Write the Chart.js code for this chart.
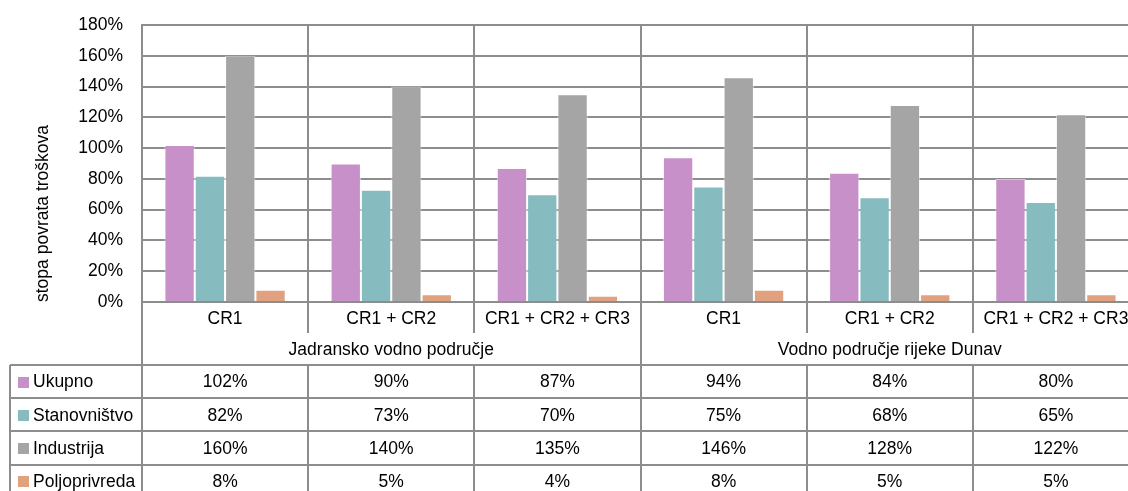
<!DOCTYPE html>
<html>
<head>
<meta charset="utf-8">
<script src="https://cdn.jsdelivr.net/npm/chart.js@4.4.1/dist/chart.umd.min.js"></script>
<style>
    html, body { margin: 0; padding: 0; background: #fff; overflow: hidden; }
    #wrap { width: 1150px; height: 491px; }
</style>
</head>
<body>
<div id="wrap"><canvas id="recovery-chart" width="1150" height="491"></canvas></div>
<script>
// scenarios per basin, left to right
const scenarios = ['CR1', 'CR1 + CR2', 'CR1 + CR2 + CR3', 'CR1', 'CR1 + CR2', 'CR1 + CR2 + CR3'];
const basins = ['Jadransko vodno područje', 'Vodno područje rijeke Dunav'];

// cost recovery rate, %
const ukupno = [102, 90, 87, 94, 84, 80];
const stanovnistvo = [82, 73, 70, 75, 68, 65];
const industrija = [160, 140, 135, 146, 128, 122];
const poljoprivreda = [8, 5, 4, 8, 5, 5];

const yMax = 180;
const yStep = 20;

const gridColor = '#8d8d8d';
const fontFamily = "'Liberation Sans', Arial, sans-serif";
const fontSize = 17.5;

Chart.defaults.font.family = fontFamily;
Chart.defaults.font.size = fontSize;
Chart.defaults.color = '#000';

const datasets = [
    { label: 'Ukupno', data: ukupno, backgroundColor: '#c890c8' },
    { label: 'Stanovništvo', data: stanovnistvo, backgroundColor: '#86bcc0' },
    { label: 'Industrija', data: industrija, backgroundColor: '#a5a5a5' },
    { label: 'Poljoprivreda', data: poljoprivreda, backgroundColor: '#e1a07e' }
].map(function (d) {
    d.borderColor = 'rgba(255, 255, 255, 0.55)';
    d.borderWidth = 1;
    return d;
});

// data table under the plot: scenario row, basin row, one row per series
const dataTable = {
    id: 'dataTable',
    afterDraw(chart) {
        const ctx = chart.ctx;
        const area = chart.chartArea;
        const xScale = chart.scales.x;
        const step = (area.right - area.left) / scenarios.length;
        const bottom = chart.height;
        const catH = 31;
        const groupH = 32;
        const rowH = 33.2;
        const dataTop = area.bottom + catH + groupH;
        const tableLeft = 10;

        ctx.save();
        ctx.strokeStyle = gridColor;
        ctx.lineWidth = 2;
        ctx.beginPath();
        for (let r = 0; r < datasets.length; r++) {
            const y = Math.round(dataTop + r * rowH);
            ctx.moveTo(tableLeft, y);
            ctx.lineTo(area.right, y);
        }
        ctx.moveTo(area.left, area.bottom);
        ctx.lineTo(area.left, bottom);
        ctx.moveTo(tableLeft, dataTop);
        ctx.lineTo(tableLeft, bottom);
        for (let i = 1; i <= scenarios.length; i++) {
            const x = Math.round(area.left + i * step);
            if (i % 3 === 0) {
                ctx.moveTo(x, area.bottom);
                ctx.lineTo(x, bottom);
            } else {
                ctx.moveTo(x, area.bottom);
                ctx.lineTo(x, area.bottom + catH);
                ctx.moveTo(x, dataTop);
                ctx.lineTo(x, bottom);
            }
        }
        ctx.stroke();

        ctx.fillStyle = '#000';
        ctx.font = fontSize + 'px ' + fontFamily;
        ctx.textAlign = 'center';
        ctx.textBaseline = 'middle';
        scenarios.forEach(function (s, i) {
            ctx.fillText(s, xScale.getPixelForValue(i), area.bottom + catH / 2 + 2);
        });
        basins.forEach(function (b, g) {
            ctx.fillText(b, area.left + (g * 3 + 1.5) * step, area.bottom + catH + groupH / 2 + 1);
        });

        datasets.forEach(function (d, r) {
            const yc = dataTop + r * rowH + rowH / 2 + 1;
            ctx.fillStyle = d.backgroundColor;
            ctx.fillRect(18, Math.round(yc - 6), 11, 11);
            ctx.fillStyle = '#000';
            ctx.textAlign = 'left';
            ctx.fillText(d.label, 33, yc);
            ctx.textAlign = 'center';
            d.data.forEach(function (v, i) {
                ctx.fillText(v + '%', xScale.getPixelForValue(i), yc);
            });
        });
        ctx.restore();
    }
};

new Chart(document.getElementById('recovery-chart'), {
    type: 'bar',
    data: { labels: scenarios, datasets: datasets },
    options: {
        responsive: false,
        animation: false,
        layout: { padding: { left: 0, top: 25, right: 11, bottom: 0 } },
        datasets: { bar: { categoryPercentage: 0.73, barPercentage: 1.0 } },
        plugins: {
            legend: { display: false },
            tooltip: { enabled: false }
        },
        scales: {
            x: {
                grid: { color: gridColor, lineWidth: 2, drawTicks: false, offset: true },
                border: { color: gridColor, width: 2 },
                ticks: { display: false },
                afterFit: function (scale) { scale.height = 189; }
            },
            y: {
                min: 0,
                max: yMax,
                grid: { color: gridColor, lineWidth: 2, drawTicks: false },
                border: { color: gridColor, width: 2 },
                ticks: {
                    stepSize: yStep,
                    padding: 19,
                    callback: function (v) { return v + '%'; }
                },
                title: {
                    display: true,
                    text: 'stopa povrata troškova',
                    align: 'start',
                    padding: { top: 33, bottom: 0 }
                },
                afterFit: function (scale) {
                    // label padding would otherwise push the plot top down
                    scale.width = 142;
                    scale.paddingTop = 10;
                    scale.paddingBottom = 10;
                }
            }
        }
    },
    plugins: [dataTable]
});
</script>
</body>
</html>
